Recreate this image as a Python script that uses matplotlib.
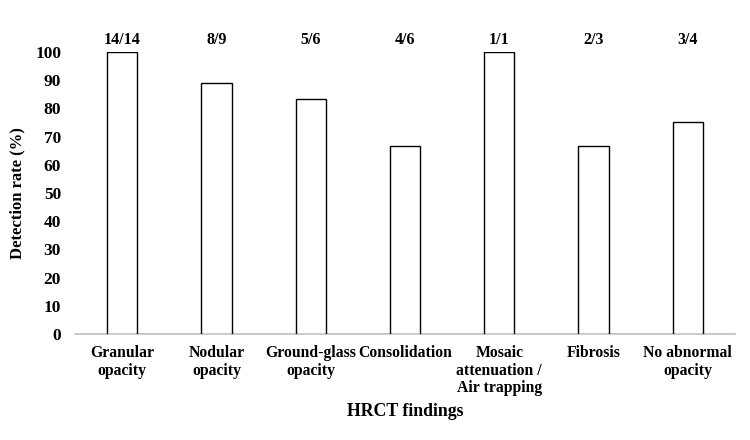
import matplotlib
matplotlib.use('Agg')
import matplotlib.pyplot as plt
import numpy as np

# Data
categories = ['Granular\nopacity', 'Nodular\nopacity', 'Ground-glass\nopacity', 'Consolidation',
              'Mosaic\nattenuation /\nAir trapping', 'Fibrosis', 'No abnormal\nopacity']
rates = [100, 88.9, 83.3, 66.7, 100, 66.7, 75]
counts = ['14/14', '8/9', '5/6', '4/6', '1/1', '2/3', '3/4']
yticks = [0, 10, 20, 30, 40, 50, 60, 70, 80, 90, 100]

plt.rcParams['font.family'] = ['Liberation Serif', 'DejaVu Serif']
plt.rcParams['font.weight'] = 'bold'

fig = plt.figure(figsize=(7.5, 4.4), dpi=100)
ax = fig.add_axes([0.1, 0.241, 0.88, 0.641])

x = np.arange(len(categories))
ax.bar(x, rates, width=0.32, color='white', edgecolor='black', linewidth=1.0, zorder=3)

# fraction labels sit in a row above the plot
for xi, c in zip(x, counts):
    ax.text(xi, 101.3, c, ha='center', va='bottom', fontsize=11.5, fontweight='bold', clip_on=False)

ax.set_xlim(-0.5, len(categories) - 0.5)
ax.set_ylim(0, 100)
ax.set_yticks(yticks)
ax.set_yticklabels([str(t) for t in yticks], fontsize=12.5, fontweight='bold')
ax.set_xticks(x)
ax.set_xticklabels(categories, fontsize=11.3, fontweight='bold', linespacing=1.13)
ax.tick_params(axis='both', length=0)
ax.tick_params(axis='y', pad=10)
ax.tick_params(axis='x', pad=8)

for s in ['top', 'right', 'left']:
    ax.spines[s].set_visible(False)
ax.spines['bottom'].set_color('#bfbfbf')
ax.spines['bottom'].set_linewidth(1.2)

ax.set_ylabel('Detection rate (%)', fontsize=12, fontweight='bold', labelpad=7)
ax.set_xlabel('HRCT findings', fontsize=12.8, fontweight='bold', labelpad=5)

fig.savefig('out.png', dpi=100)
